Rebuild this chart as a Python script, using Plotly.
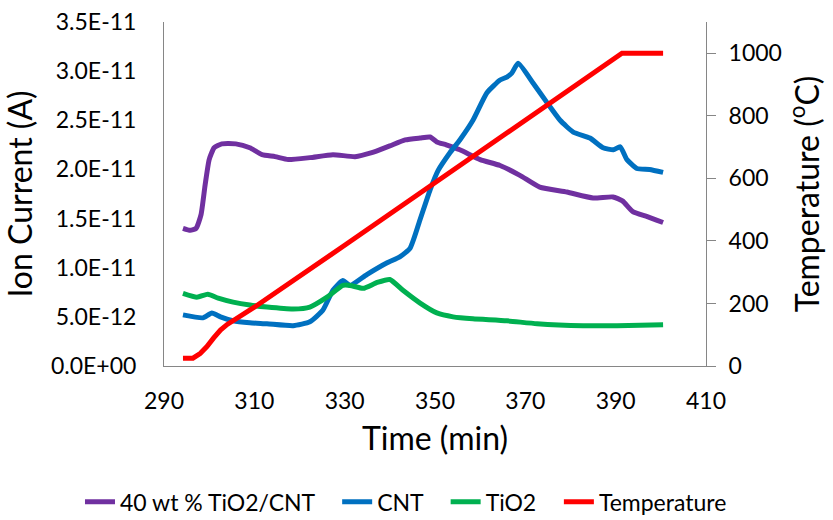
import plotly.graph_objects as go

# ---- data ----
t_mix = [294.2, 295.8, 297.1, 298.2, 299.1, 300.0, 301.1, 302.8, 305.9, 309.0, 311.7, 314.6, 317.5,
         322.3, 327.4, 332.3, 336.0, 340.0, 343.4, 346.7, 348.9, 350.4, 352.5, 355.5, 360.0, 364.4,
         368.8, 373.2, 379.2, 385.0, 389.4, 391.5, 393.8, 397.0, 400.5]
v_mix = [1.40, 1.38, 1.40, 1.54, 1.84, 2.10, 2.22, 2.26, 2.26, 2.22, 2.15, 2.13, 2.10,
         2.12, 2.15, 2.13, 2.17, 2.24, 2.30, 2.32, 2.33, 2.28, 2.25, 2.20, 2.10, 2.04,
         1.94, 1.82, 1.77, 1.71, 1.72, 1.68, 1.57, 1.52, 1.46]

t_cnt = [294.2, 298.6, 300.6, 302.5, 305.3, 309.0, 312.8, 318.6, 322.3, 325.2, 327.4, 329.6, 331.2,
         334.9, 339.4, 342.2, 344.5, 346.7, 348.9, 350.7, 353.3, 355.5, 358.4, 361.5, 364.4, 365.9,
         367.0, 368.4, 371.7, 374.8, 377.7, 380.6, 384.3, 387.2, 389.5, 391.0, 392.5, 394.7, 397.5, 400.5]
v_cnt = [0.52, 0.49, 0.54, 0.50, 0.46, 0.44, 0.43, 0.41, 0.45, 0.57, 0.77, 0.87, 0.82,
         0.93, 1.05, 1.11, 1.20, 1.49, 1.79, 1.99, 2.17, 2.30, 2.50, 2.78, 2.91, 2.94,
         2.98, 3.08, 2.88, 2.68, 2.50, 2.38, 2.32, 2.22, 2.20, 2.23, 2.10, 2.01, 2.00, 1.97]

t_tio2 = [294.2, 297.3, 299.7, 302.0, 305.3, 309.0, 312.8, 318.6, 322.3, 326.1, 329.6, 331.2, 334.1,
          337.2, 340.0, 342.9, 346.7, 350.4, 354.0, 358.4, 365.9, 372.6, 382.8, 390.3, 400.5]
v_tio2 = [0.74, 0.70, 0.73, 0.69, 0.65, 0.62, 0.60, 0.58, 0.60, 0.70, 0.82, 0.82, 0.79,
          0.85, 0.88, 0.77, 0.64, 0.54, 0.50, 0.48, 0.46, 0.43, 0.41, 0.41, 0.42]

t_temp = [294.2, 296.4, 298.0, 299.5, 301.0, 302.5, 304.0, 306.0, 310.0, 330.0, 350.0, 370.0, 391.4, 400.5]
v_temp = [25, 25, 40, 62, 90, 115, 133, 152, 188, 386, 585, 786, 1000, 1000]

series_names = ["40 wt % TiO2/CNT", "CNT", "TiO2", "Temperature"]

scale = 1e-11
left_tickvals = [0, 0.5e-11, 1.0e-11, 1.5e-11, 2.0e-11, 2.5e-11, 3.0e-11, 3.5e-11]
left_ticktext = ["0.0E+00", "5.0E-12", "1.0E-11", "1.5E-11", "2.0E-11", "2.5E-11", "3.0E-11", "3.5E-11"]
x_ticks = [290, 310, 330, 350, 370, 390, 410]
right_ticks = [0, 200, 400, 600, 800, 1000]

FONT = "Lato"
AXC = "#868686"
PAD = "\u00a0\u00a0\u00a0"  # spacing between legend entries

fig = go.Figure()
fig.add_trace(go.Scatter(x=t_mix, y=[v * scale for v in v_mix], name=series_names[0] + PAD,
                         mode="lines", line=dict(color="#7030A0", width=5, shape="spline", smoothing=0.5)))
fig.add_trace(go.Scatter(x=t_cnt, y=[v * scale for v in v_cnt], name=series_names[1] + PAD,
                         mode="lines", line=dict(color="#0070C0", width=5, shape="spline", smoothing=0.5)))
fig.add_trace(go.Scatter(x=t_tio2, y=[v * scale for v in v_tio2], name=series_names[2] + PAD,
                         mode="lines", line=dict(color="#00B050", width=5, shape="spline", smoothing=0.5)))
fig.add_trace(go.Scatter(x=t_temp, y=v_temp, name=series_names[3], yaxis="y2",
                         mode="lines", line=dict(color="#FF0000", width=5)))

fig.update_layout(
    width=833, height=520,
    margin=dict(l=164, r=127, t=22, b=154, autoexpand=False),
    paper_bgcolor="white", plot_bgcolor="white",
    font=dict(family=FONT, size=23, color="black"),
    showlegend=True,
    legend=dict(orientation="h", x=-0.155, xanchor="left", y=-0.395, yanchor="middle",
                font=dict(size=23), bgcolor="rgba(0,0,0,0)"),
    xaxis=dict(range=[290, 410], tickvals=x_ticks, showgrid=False, zeroline=False,
               showline=True, linecolor=AXC, linewidth=1, ticks="", ticklabelstandoff=14,
               title=dict(text="Time (min)", font=dict(size=32))),
    yaxis=dict(range=[0, 3.5e-11], tickvals=left_tickvals, ticktext=left_ticktext,
               showgrid=False, zeroline=False, showline=True, linecolor=AXC, linewidth=1,
               ticks="", ticklabelstandoff=22,
               title=dict(text="Ion Current (A)", font=dict(size=32))),
    yaxis2=dict(range=[0, 1100], tickvals=right_ticks, overlaying="y", side="right",
                showgrid=False, zeroline=False, showline=True, linecolor=AXC, linewidth=1,
                ticks="outside", ticklen=9, tickcolor=AXC, ticklabelstandoff=8,
                title=dict(text="Temperature (<sup>o</sup>C)", font=dict(size=32))),
)

fig.write_html("out.html")
